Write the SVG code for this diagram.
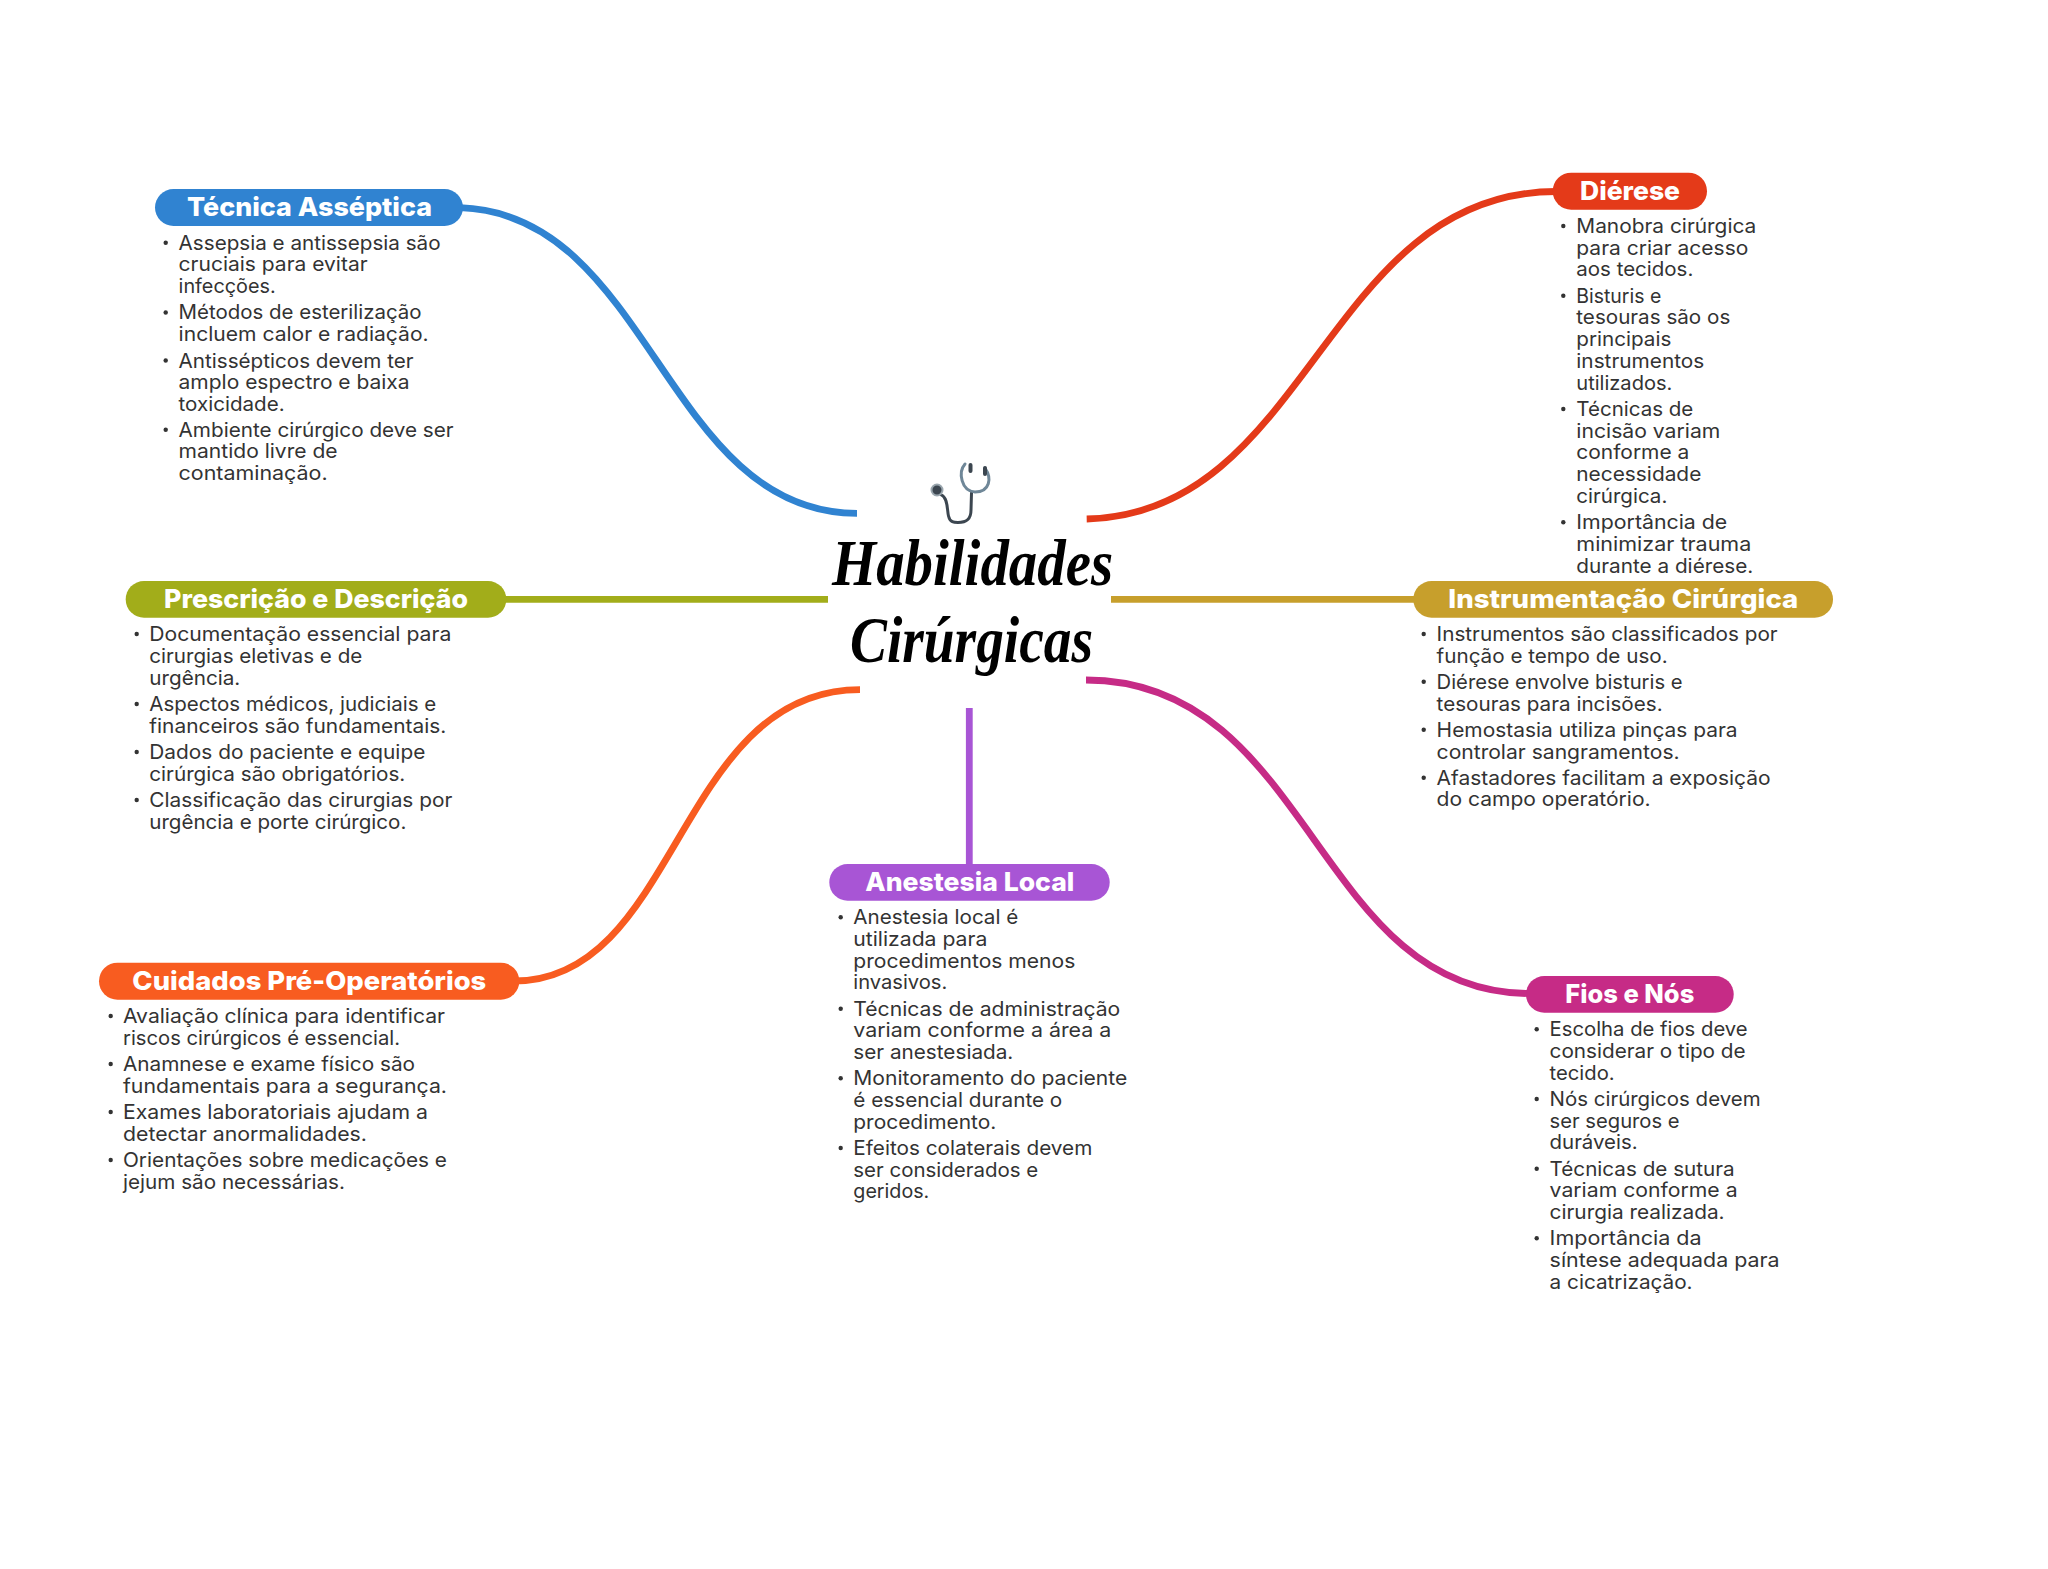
<svg xmlns="http://www.w3.org/2000/svg" width="2048" height="1569" viewBox="0 0 2048 1569">
<style>
.l{font-family:"Inter","Noto Sans",sans-serif;font-size:20px;font-weight:400;fill:#333;transform:translate(-.7px,.4px)}
.h{font-family:"Inter","Noto Sans",sans-serif;font-size:26px;font-weight:800;fill:#fff;transform:translate(0,.4px)}
.t{font-family:"Liberation Serif",serif;font-style:italic;font-weight:700;font-size:66px;fill:#000}
.c{fill:none;stroke-width:6.8}
.b{fill:#333}
</style>
<rect width="2048" height="1569" fill="#fff"/>
<g id="connectors">
<path class="c" stroke="#3083d1" d="M460 207.7C651 213.7 665 513.3 857 513.3"/>
<path class="c" stroke="#e43a19" d="M1086.7 519C1310 514 1325 192 1556 191.5"/>
<path class="c" stroke="#a2ad1a" d="M503 599.3H828"/>
<path class="c" stroke="#c79f2c" d="M1111 599.3H1416"/>
<path class="c" stroke="#f85c20" d="M860 689.7C677 689.7 679 981 514 981"/>
<path class="c" stroke="#c62b86" d="M1086 680C1311.5 680 1315.6 993.3 1529 993.5"/>
<path class="c" stroke="#a855d5" d="M969.3 708V866"/>
</g>
<g id="center">
<g fill="none" stroke-linecap="round">
<path d="M941.5 495C948 498 947 510 948.5 516C950 522.5 954 522.5 958 522.5C966 522.5 971 520 971 510L971.5 493" stroke="#3c4650" stroke-width="3"/>
<path d="M965 464C958 472 961 491 975 492C990 492 992 478 985 468" stroke="#6f8798" stroke-width="3"/>
<path d="M970.5 465V471M985 468V474" stroke="#3c4650" stroke-width="4"/>
</g>
<circle cx="937" cy="490" r="5.5" fill="#3c4650" stroke="#9aa6ae" stroke-width="2"/>
<text class="t" x="832" y="585" textLength="281" lengthAdjust="spacingAndGlyphs">Habilidades</text>
<text class="t" x="850" y="662" textLength="243" lengthAdjust="spacingAndGlyphs">Cirúrgicas</text>
</g>
<g id="tecnica">
<rect x="155" y="189" width="308" height="37" rx="18.5" fill="#3083d1"/>
<text class="h" x="187" y="215.7" textLength="245" lengthAdjust="spacingAndGlyphs">Técnica Asséptica</text>
<g class="b"><circle cx="165.7" cy="242.7" r="2.2"/><circle cx="165.7" cy="312.5" r="2.2"/><circle cx="165.7" cy="360.5" r="2.2"/><circle cx="165.7" cy="429.7" r="2.2"/></g>
<text class="l" x="179.3" y="249.3" textLength="262" lengthAdjust="spacingAndGlyphs">Assepsia e antissepsia são</text>
<text class="l" x="179.3" y="271" textLength="189" lengthAdjust="spacingAndGlyphs">cruciais para evitar</text>
<text class="l" x="179.3" y="292.7" textLength="97" lengthAdjust="spacingAndGlyphs">infecções.</text>
<text class="l" x="179.3" y="319" textLength="243" lengthAdjust="spacingAndGlyphs">Métodos de esterilização</text>
<text class="l" x="179.3" y="340.7" textLength="250" lengthAdjust="spacingAndGlyphs">incluem calor e radiação.</text>
<text class="l" x="179.3" y="367.3" textLength="235" lengthAdjust="spacingAndGlyphs">Antissépticos devem ter</text>
<text class="l" x="179.3" y="389" textLength="231" lengthAdjust="spacingAndGlyphs">amplo espectro e baixa</text>
<text class="l" x="179.3" y="410.7" textLength="106" lengthAdjust="spacingAndGlyphs">toxicidade.</text>
<text class="l" x="179.3" y="436.3" textLength="275" lengthAdjust="spacingAndGlyphs">Ambiente cirúrgico deve ser</text>
<text class="l" x="179.3" y="458" textLength="159" lengthAdjust="spacingAndGlyphs">mantido livre de</text>
<text class="l" x="179.3" y="479.7" textLength="149" lengthAdjust="spacingAndGlyphs">contaminação.</text>
</g>
<g id="dierese">
<rect x="1552.7" y="172.7" width="154.3" height="37" rx="18.5" fill="#e43a19"/>
<text class="h" x="1580" y="199.3" textLength="100" lengthAdjust="spacingAndGlyphs">Diérese</text>
<g class="b"><circle cx="1563.3" cy="226" r="2.2"/><circle cx="1563.3" cy="295.7" r="2.2"/><circle cx="1563.3" cy="409" r="2.2"/><circle cx="1563.3" cy="522.3" r="2.2"/></g>
<text class="l" x="1577" y="232.7" textLength="180" lengthAdjust="spacingAndGlyphs">Manobra cirúrgica</text>
<text class="l" x="1577" y="254.3" textLength="172" lengthAdjust="spacingAndGlyphs">para criar acesso</text>
<text class="l" x="1577" y="276" textLength="117" lengthAdjust="spacingAndGlyphs">aos tecidos.</text>
<text class="l" x="1577" y="302.3" textLength="85" lengthAdjust="spacingAndGlyphs">Bisturis e</text>
<text class="l" x="1577" y="324" textLength="154" lengthAdjust="spacingAndGlyphs">tesouras são os</text>
<text class="l" x="1577" y="345.7" textLength="95" lengthAdjust="spacingAndGlyphs">principais</text>
<text class="l" x="1577" y="367.7" textLength="128" lengthAdjust="spacingAndGlyphs">instrumentos</text>
<text class="l" x="1577" y="389.3" textLength="96" lengthAdjust="spacingAndGlyphs">utilizados.</text>
<text class="l" x="1577" y="415.7" textLength="117" lengthAdjust="spacingAndGlyphs">Técnicas de</text>
<text class="l" x="1577" y="437.3" textLength="144" lengthAdjust="spacingAndGlyphs">incisão variam</text>
<text class="l" x="1577" y="459" textLength="113" lengthAdjust="spacingAndGlyphs">conforme a</text>
<text class="l" x="1577" y="481" textLength="125" lengthAdjust="spacingAndGlyphs">necessidade</text>
<text class="l" x="1577" y="502.7" textLength="91" lengthAdjust="spacingAndGlyphs">cirúrgica.</text>
<text class="l" x="1577" y="529" textLength="151" lengthAdjust="spacingAndGlyphs">Importância de</text>
<text class="l" x="1577" y="550.7" textLength="175" lengthAdjust="spacingAndGlyphs">minimizar trauma</text>
<text class="l" x="1577" y="572.3" textLength="177" lengthAdjust="spacingAndGlyphs">durante a diérese.</text>
</g>
<g id="instrumentacao">
<rect x="1413.3" y="581" width="419.7" height="36.7" rx="18.3" fill="#c79f2c"/>
<text class="h" x="1448.3" y="607.7" textLength="350" lengthAdjust="spacingAndGlyphs">Instrumentação Cirúrgica</text>
<g class="b"><circle cx="1423.7" cy="634" r="2.2"/><circle cx="1423.7" cy="681.7" r="2.2"/><circle cx="1423.7" cy="729.7" r="2.2"/><circle cx="1423.7" cy="777.7" r="2.2"/></g>
<text class="l" x="1437.3" y="640.7" textLength="341" lengthAdjust="spacingAndGlyphs">Instrumentos são classificados por</text>
<text class="l" x="1437.3" y="662.3" textLength="231" lengthAdjust="spacingAndGlyphs">função e tempo de uso.</text>
<text class="l" x="1437.3" y="688.3" textLength="246" lengthAdjust="spacingAndGlyphs">Diérese envolve bisturis e</text>
<text class="l" x="1437.3" y="710.3" textLength="226" lengthAdjust="spacingAndGlyphs">tesouras para incisões.</text>
<text class="l" x="1437.3" y="736.3" textLength="301" lengthAdjust="spacingAndGlyphs">Hemostasia utiliza pinças para</text>
<text class="l" x="1437.3" y="758.3" textLength="243" lengthAdjust="spacingAndGlyphs">controlar sangramentos.</text>
<text class="l" x="1437.3" y="784.3" textLength="334" lengthAdjust="spacingAndGlyphs">Afastadores facilitam a exposição</text>
<text class="l" x="1437.3" y="806" textLength="214" lengthAdjust="spacingAndGlyphs">do campo operatório.</text>
</g>
<g id="prescricao">
<rect x="125.7" y="581" width="380.6" height="36.7" rx="18.3" fill="#a2ad1a"/>
<text class="h" x="164" y="607.7" textLength="304" lengthAdjust="spacingAndGlyphs">Prescrição e Descrição</text>
<g class="b"><circle cx="136.7" cy="634" r="2.2"/><circle cx="136.7" cy="704" r="2.2"/><circle cx="136.7" cy="752" r="2.2"/><circle cx="136.7" cy="800" r="2.2"/></g>
<text class="l" x="150" y="640.7" textLength="302" lengthAdjust="spacingAndGlyphs">Documentação essencial para</text>
<text class="l" x="150" y="662.5" textLength="213" lengthAdjust="spacingAndGlyphs">cirurgias eletivas e de</text>
<text class="l" x="150" y="684.3" textLength="91" lengthAdjust="spacingAndGlyphs">urgência.</text>
<text class="l" x="150" y="710.7" textLength="287" lengthAdjust="spacingAndGlyphs">Aspectos médicos, judiciais e</text>
<text class="l" x="150" y="732.3" textLength="297" lengthAdjust="spacingAndGlyphs">financeiros são fundamentais.</text>
<text class="l" x="150" y="758.7" textLength="276" lengthAdjust="spacingAndGlyphs">Dados do paciente e equipe</text>
<text class="l" x="150" y="780.3" textLength="256" lengthAdjust="spacingAndGlyphs">cirúrgica são obrigatórios.</text>
<text class="l" x="150" y="806.7" textLength="303" lengthAdjust="spacingAndGlyphs">Classificação das cirurgias por</text>
<text class="l" x="150" y="828.3" textLength="257" lengthAdjust="spacingAndGlyphs">urgência e porte cirúrgico.</text>
</g>
<g id="cuidados">
<rect x="99" y="962.7" width="420.3" height="37" rx="18.5" fill="#f85c20"/>
<text class="h" x="132.3" y="989.3" textLength="354" lengthAdjust="spacingAndGlyphs">Cuidados Pré-Operatórios</text>
<g class="b"><circle cx="110.7" cy="1016" r="2.2"/><circle cx="110.7" cy="1064" r="2.2"/><circle cx="110.7" cy="1112" r="2.2"/><circle cx="110.7" cy="1160" r="2.2"/></g>
<text class="l" x="123.7" y="1022.7" textLength="322" lengthAdjust="spacingAndGlyphs">Avaliação clínica para identificar</text>
<text class="l" x="123.7" y="1044.3" textLength="277" lengthAdjust="spacingAndGlyphs">riscos cirúrgicos é essencial.</text>
<text class="l" x="123.7" y="1070.7" textLength="292" lengthAdjust="spacingAndGlyphs">Anamnese e exame físico são</text>
<text class="l" x="123.7" y="1092.3" textLength="324" lengthAdjust="spacingAndGlyphs">fundamentais para a segurança.</text>
<text class="l" x="123.7" y="1118.7" textLength="305" lengthAdjust="spacingAndGlyphs">Exames laboratoriais ajudam a</text>
<text class="l" x="123.7" y="1140.3" textLength="244" lengthAdjust="spacingAndGlyphs">detectar anormalidades.</text>
<text class="l" x="123.7" y="1166.7" textLength="324" lengthAdjust="spacingAndGlyphs">Orientações sobre medicações e</text>
<text class="l" x="123.7" y="1188.3" textLength="222" lengthAdjust="spacingAndGlyphs">jejum são necessárias.</text>
</g>
<g id="anestesia">
<rect x="829.3" y="864" width="280.4" height="36.7" rx="18.3" fill="#a855d5"/>
<text class="h" x="865.3" y="891" textLength="209" lengthAdjust="spacingAndGlyphs">Anestesia Local</text>
<g class="b"><circle cx="840.7" cy="917.3" r="2.2"/><circle cx="840.7" cy="1008.7" r="2.2"/><circle cx="840.7" cy="1078.3" r="2.2"/><circle cx="840.7" cy="1148" r="2.2"/></g>
<text class="l" x="854" y="924" textLength="165" lengthAdjust="spacingAndGlyphs">Anestesia local é</text>
<text class="l" x="854" y="945.7" textLength="134" lengthAdjust="spacingAndGlyphs">utilizada para</text>
<text class="l" x="854" y="967.3" textLength="222" lengthAdjust="spacingAndGlyphs">procedimentos menos</text>
<text class="l" x="854" y="989" textLength="94" lengthAdjust="spacingAndGlyphs">invasivos.</text>
<text class="l" x="854" y="1015.3" textLength="267" lengthAdjust="spacingAndGlyphs">Técnicas de administração</text>
<text class="l" x="854" y="1037" textLength="258" lengthAdjust="spacingAndGlyphs">variam conforme a área a</text>
<text class="l" x="854" y="1059" textLength="160" lengthAdjust="spacingAndGlyphs">ser anestesiada.</text>
<text class="l" x="854" y="1085" textLength="274" lengthAdjust="spacingAndGlyphs">Monitoramento do paciente</text>
<text class="l" x="854" y="1106.7" textLength="209" lengthAdjust="spacingAndGlyphs">é essencial durante o</text>
<text class="l" x="854" y="1128.7" textLength="143" lengthAdjust="spacingAndGlyphs">procedimento.</text>
<text class="l" x="854" y="1154.7" textLength="239" lengthAdjust="spacingAndGlyphs">Efeitos colaterais devem</text>
<text class="l" x="854" y="1176.3" textLength="185" lengthAdjust="spacingAndGlyphs">ser considerados e</text>
<text class="l" x="854" y="1198" textLength="76" lengthAdjust="spacingAndGlyphs">geridos.</text>
</g>
<g id="fios">
<rect x="1526" y="976" width="207.7" height="36.7" rx="18.3" fill="#c62b86"/>
<text class="h" x="1565.3" y="1002.7" textLength="129" lengthAdjust="spacingAndGlyphs">Fios e Nós</text>
<g class="b"><circle cx="1536.7" cy="1029.3" r="2.2"/><circle cx="1536.7" cy="1099" r="2.2"/><circle cx="1536.7" cy="1168.7" r="2.2"/><circle cx="1536.7" cy="1238.3" r="2.2"/></g>
<text class="l" x="1550.3" y="1036" textLength="198" lengthAdjust="spacingAndGlyphs">Escolha de fios deve</text>
<text class="l" x="1550.3" y="1057.7" textLength="196" lengthAdjust="spacingAndGlyphs">considerar o tipo de</text>
<text class="l" x="1550.3" y="1079.3" textLength="65" lengthAdjust="spacingAndGlyphs">tecido.</text>
<text class="l" x="1550.3" y="1105.7" textLength="211" lengthAdjust="spacingAndGlyphs">Nós cirúrgicos devem</text>
<text class="l" x="1550.3" y="1127.3" textLength="130" lengthAdjust="spacingAndGlyphs">ser seguros e</text>
<text class="l" x="1550.3" y="1149" textLength="88" lengthAdjust="spacingAndGlyphs">duráveis.</text>
<text class="l" x="1550.3" y="1175.3" textLength="185" lengthAdjust="spacingAndGlyphs">Técnicas de sutura</text>
<text class="l" x="1550.3" y="1197" textLength="188" lengthAdjust="spacingAndGlyphs">variam conforme a</text>
<text class="l" x="1550.3" y="1218.7" textLength="175" lengthAdjust="spacingAndGlyphs">cirurgia realizada.</text>
<text class="l" x="1550.3" y="1245" textLength="152" lengthAdjust="spacingAndGlyphs">Importância da</text>
<text class="l" x="1550.3" y="1266.7" textLength="230" lengthAdjust="spacingAndGlyphs">síntese adequada para</text>
<text class="l" x="1550.3" y="1288.3" textLength="143" lengthAdjust="spacingAndGlyphs">a cicatrização.</text>
</g>
</svg>
